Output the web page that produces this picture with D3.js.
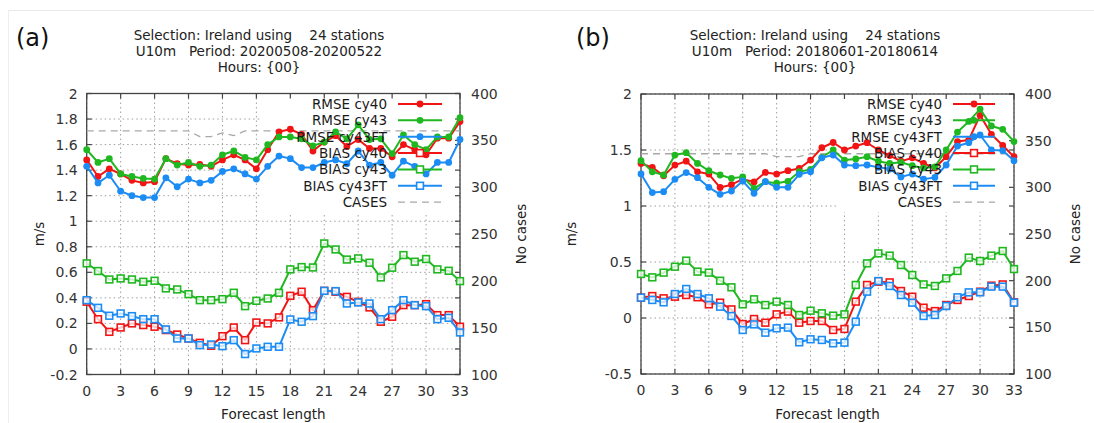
<!DOCTYPE html>
<html><head><meta charset="utf-8">
<script src="https://cdn.jsdelivr.net/npm/d3@7"></script>
<style>
body{margin:0;background:#fff}
svg{display:block}
text{font-family:"DejaVu Sans",sans-serif}
</style>
</head><body>
<svg id="chart" width="1094" height="423"></svg>
<script>
// ---------------- DATA ----------------
const forecastHours = [0,1,2,3,4,5,6,7,8,9,10,11,12,13,14,15,16,17,18,19,20,21,22,23,24,25,26,27,28,29,30,31,32,33];
const xTickLabels = [0,3,6,9,12,15,18,21,24,27,30,33];
const seriesNames = ["RMSE cy40","RMSE cy43","RMSE cy43FT","BIAS cy40","BIAS cy43","BIAS cy43FT","CASES"];

// Panel (a): 20200508-20200522
const rmseCy40A   = [1.48,1.35,1.41,1.37,1.32,1.30,1.31,1.49,1.45,1.44,1.445,1.43,1.48,1.52,1.48,1.41,1.56,1.70,1.72,1.68,1.55,1.62,1.67,1.585,1.64,1.57,1.57,1.505,1.60,1.56,1.52,1.65,1.65,1.78];
const rmseCy43A   = [1.56,1.46,1.49,1.37,1.35,1.335,1.33,1.49,1.44,1.46,1.43,1.44,1.52,1.55,1.50,1.48,1.60,1.66,1.66,1.645,1.59,1.62,1.70,1.645,1.755,1.64,1.645,1.53,1.675,1.60,1.56,1.66,1.66,1.81];
const rmseCy43FTA = [1.43,1.30,1.36,1.235,1.20,1.185,1.185,1.34,1.27,1.33,1.30,1.32,1.39,1.41,1.37,1.33,1.43,1.51,1.49,1.42,1.42,1.46,1.48,1.45,1.55,1.44,1.46,1.36,1.47,1.43,1.37,1.46,1.46,1.64];
const biasCy40A   = [0.37,0.233,0.134,0.168,0.20,0.187,0.174,0.148,0.113,0.082,0.048,0.025,0.10,0.168,0.069,0.207,0.20,0.247,0.416,0.448,0.304,0.455,0.448,0.408,0.369,0.325,0.213,0.252,0.343,0.343,0.351,0.265,0.265,0.174];
const biasCy43A   = [0.67,0.61,0.544,0.552,0.544,0.526,0.534,0.474,0.466,0.429,0.382,0.382,0.39,0.44,0.335,0.377,0.395,0.44,0.623,0.641,0.638,0.826,0.779,0.70,0.709,0.675,0.56,0.636,0.735,0.683,0.704,0.623,0.612,0.531];
const biasCy43FTA = [0.382,0.322,0.26,0.278,0.257,0.233,0.233,0.153,0.082,0.082,0.03,0.035,0.022,0.069,-0.04,0.004,0.017,0.017,0.231,0.213,0.257,0.455,0.453,0.356,0.364,0.356,0.233,0.304,0.382,0.343,0.335,0.233,0.244,0.129];
const casesA      = [360,360,360,360,360,360,360,360,360,360,354,354,358,355,360,360,360,360,360,360,360,360,360,360,360,360,360,360,360,360,360,360,360,360];

// Panel (b): 20180601-20180614
const rmseCy40B   = [1.38,1.345,1.27,1.365,1.40,1.305,1.285,1.165,1.19,1.24,1.215,1.30,1.285,1.315,1.335,1.41,1.52,1.567,1.50,1.535,1.565,1.50,1.45,1.40,1.43,1.38,1.34,1.44,1.575,1.59,1.81,1.64,1.54,1.44];
const rmseCy43B   = [1.405,1.305,1.277,1.455,1.476,1.38,1.315,1.277,1.247,1.26,1.158,1.217,1.203,1.22,1.306,1.327,1.435,1.50,1.41,1.42,1.44,1.40,1.38,1.39,1.36,1.34,1.35,1.50,1.66,1.755,1.865,1.715,1.685,1.575];
const rmseCy43FTB = [1.286,1.12,1.128,1.238,1.298,1.253,1.167,1.104,1.134,1.223,1.113,1.217,1.167,1.167,1.283,1.306,1.43,1.455,1.366,1.36,1.366,1.345,1.33,1.26,1.285,1.24,1.255,1.366,1.535,1.565,1.634,1.50,1.495,1.405];
const biasCy40B   = [0.182,0.196,0.176,0.19,0.205,0.185,0.122,0.137,0.077,-0.054,-0.009,-0.042,0.033,0.057,-0.042,-0.027,-0.027,-0.107,-0.098,0.146,0.295,0.324,0.318,0.241,0.19,0.092,0.062,0.116,0.161,0.196,0.235,0.289,0.30,0.14];
const biasCy43B   = [0.393,0.363,0.405,0.458,0.512,0.414,0.405,0.333,0.274,0.122,0.167,0.116,0.146,0.116,0.027,0.065,0.042,0.021,0.033,0.295,0.488,0.577,0.557,0.473,0.384,0.30,0.286,0.354,0.42,0.539,0.509,0.557,0.598,0.437];
const biasCy43FTB = [0.182,0.161,0.14,0.214,0.259,0.214,0.176,0.101,0.018,-0.107,-0.057,-0.131,-0.092,-0.086,-0.217,-0.19,-0.196,-0.226,-0.22,-0.033,0.235,0.33,0.286,0.205,0.137,0.018,0.027,0.107,0.185,0.229,0.229,0.28,0.28,0.137];
const casesB      = [336,336,336,336,336,336,336,336,336,336,336,336,333,333,333,336,336,336,336,336,336,336,336,336,336,336,336,336,336,336,336,336,336,336];

const yTicksA  = [-0.2,0,0.2,0.4,0.6,0.8,1,1.2,1.4,1.6,1.8,2];
const yTicksB  = [-0.5,0,0.5,1,1.5,2];
const y2Ticks  = [100,150,200,250,300,350,400];

const titleA = ["Selection: Ireland using    24 stations","U10m   Period: 20200508-20200522","Hours: {00}"];
const titleB = ["Selection: Ireland using    24 stations","U10m   Period: 20180601-20180614","Hours: {00}"];

// ---------------- STYLE ----------------
const RED = "#f21414", GREEN = "#20b820", BLUE = "#1c8cf5", GREY = "#a8a8a8";
const seriesStyle = [
  {color:RED, marker:"circle"}, {color:GREEN, marker:"circle"}, {color:BLUE, marker:"circle"},
  {color:RED, marker:"square"}, {color:GREEN, marker:"square"}, {color:BLUE, marker:"square"},
  {color:GREY, marker:"none", dash:"7,5"}
];

const svg = d3.select("#chart");
// faint frame of the original figure
svg.append("line").attr("x1",8).attr("x2",1094).attr("y1",10.5).attr("y2",10.5).attr("stroke","#e9e9e9");
svg.append("line").attr("x1",8.5).attr("x2",8.5).attr("y1",10).attr("y2",423).attr("stroke","#eeeeee");

function fmt(v){ return String(+v.toFixed(2)); }

function drawPanel(p){
  const g = svg.append("g");
  const x = d3.scaleLinear().domain([0,33]).range([p.left,p.right]);
  const y = d3.scaleLinear().domain(p.yDomain).range([p.bottom,p.top]);
  const y2 = d3.scaleLinear().domain([100,400]).range([p.bottom,p.top]);

  // tag
  g.append("text").attr("x",p.tagX).attr("y",46).attr("font-size",24)
    .attr("font-family","'Open Sans',sans-serif").attr("fill","#111").text(p.tag);
  // title
  p.title.forEach((t,i)=>{
    g.append("text").attr("x",p.titleX).attr("y",39.5+i*16.3).attr("text-anchor","middle")
      .attr("font-size",13.5).attr("fill","#222").attr("xml:space","preserve").style("white-space","pre").text(t);
  });

  // grid
  const grid = g.append("g").attr("stroke","#a0a0a0").attr("stroke-width",1).attr("stroke-dasharray","1.5,3");
  p.yTicks.forEach(t=>{
    grid.append("line").attr("x1",p.left).attr("x2",p.right).attr("y1",y(t)).attr("y2",y(t));
  });
  xTickLabels.forEach(t=>{
    grid.append("line").attr("x1",x(t)).attr("x2",x(t)).attr("y1",p.top).attr("y2",p.bottom);
  });
  // key background mask
  g.append("rect").attr("x",p.keyMask[0]).attr("y",p.top+1).attr("width",p.right-p.keyMask[0]-1)
    .attr("height",p.keyMask[1]-p.top).attr("fill","#fff");

  // border
  g.append("rect").attr("x",p.left).attr("y",p.top).attr("width",p.right-p.left).attr("height",p.bottom-p.top)
    .attr("fill","none").attr("stroke","#444").attr("stroke-width",1.3);

  // ticks (inward)
  const tk = g.append("g").attr("stroke","#444").attr("stroke-width",1.2);
  const TL = 5;
  p.yTicks.forEach(t=>{
    tk.append("line").attr("x1",p.left).attr("x2",p.left+TL).attr("y1",y(t)).attr("y2",y(t));
    tk.append("line").attr("x1",p.right).attr("x2",p.right-TL).attr("y1",y(t)).attr("y2",y(t));
  });
  y2Ticks.forEach(t=>{
    tk.append("line").attr("x1",p.right).attr("x2",p.right-TL).attr("y1",y2(t)).attr("y2",y2(t));
  });
  xTickLabels.forEach(t=>{
    tk.append("line").attr("x1",x(t)).attr("x2",x(t)).attr("y1",p.bottom).attr("y2",p.bottom-TL);
    tk.append("line").attr("x1",x(t)).attr("x2",x(t)).attr("y1",p.top).attr("y2",p.top+TL);
  });

  // tick labels
  const lab = g.append("g").attr("font-size",14).attr("fill","#333");
  p.yTicks.forEach(t=>{
    lab.append("text").attr("x",p.left-9).attr("y",y(t)+5).attr("text-anchor","end").text(fmt(t));
  });
  y2Ticks.forEach(t=>{
    lab.append("text").attr("x",p.right+11).attr("y",y2(t)+5).attr("text-anchor","start").text(t);
  });
  xTickLabels.forEach(t=>{
    lab.append("text").attr("x",x(t)).attr("y",p.bottom+21).attr("text-anchor","middle").text(t);
  });

  // axis titles
  g.append("text").attr("transform",`translate(${p.ylabX},${(p.top+p.bottom)/2}) rotate(-90)`)
    .attr("text-anchor","middle").attr("font-size",13.5).attr("fill","#222").text("m/s");
  g.append("text").attr("transform",`translate(${p.y2labX},${(p.top+p.bottom)/2}) rotate(-90)`)
    .attr("text-anchor","middle").attr("font-size",13.5).attr("fill","#222").text("No cases");
  g.append("text").attr("x",(p.left+p.right)/2).attr("y",418.5).attr("text-anchor","middle")
    .attr("font-size",13.5).attr("fill","#222").text("Forecast length");

  // series
  const order = [6,0,1,2,3,4,5];
  order.forEach(si=>{
    const st = seriesStyle[si];
    const vals = p.series[si];
    const ys = si===6 ? y2 : y;
    const pts = forecastHours.map((h,i)=>[x(h), ys(vals[i])]);
    g.append("path").attr("d",d3.line()(pts)).attr("fill","none").attr("stroke",st.color)
      .attr("stroke-width", si===6?1.3:2).attr("stroke-dasharray",st.dash||null).attr("stroke-linejoin","round");
    if(st.marker==="circle"){
      pts.forEach(q=>g.append("circle").attr("cx",q[0]).attr("cy",q[1]).attr("r",3.4).attr("fill",st.color));
    } else if(st.marker==="square"){
      pts.forEach(q=>g.append("rect").attr("x",q[0]-3.4).attr("y",q[1]-3.4).attr("width",6.8).attr("height",6.8)
        .attr("fill","#fff").attr("fill-opacity",0.75).attr("stroke",st.color).attr("stroke-width",1.6));
    }
  });

  // key
  seriesNames.forEach((name,i)=>{
    const st = seriesStyle[i];
    const cy = 104 + i*16.35;
    g.append("text").attr("x",p.keyTextX).attr("y",cy+5).attr("text-anchor","end")
      .attr("font-size",13.5).attr("fill","#1a1a1a").text(name);
    g.append("line").attr("x1",p.keyLine[0]).attr("x2",p.keyLine[1]).attr("y1",cy).attr("y2",cy)
      .attr("stroke",st.color).attr("stroke-width",i===6?1.3:2).attr("stroke-dasharray",st.dash||null);
    const mx = (p.keyLine[0]+p.keyLine[1])/2;
    if(st.marker==="circle") g.append("circle").attr("cx",mx).attr("cy",cy).attr("r",3.4).attr("fill",st.color);
    if(st.marker==="square") g.append("rect").attr("x",mx-3.4).attr("y",cy-3.4).attr("width",6.8).attr("height",6.8)
      .attr("fill","#fff").attr("stroke",st.color).attr("stroke-width",1.6);
  });
}

drawPanel({
  tag:"(a)", tagX:16, title:titleA, titleX:259,
  left:86.7, right:460, top:93.5, bottom:374.5, yDomain:[-0.2,2], yTicks:yTicksA,
  ylabX:44, y2labX:526, keyTextX:387, keyLine:[398,442], keyMask:[262,211],
  series:[rmseCy40A,rmseCy43A,rmseCy43FTA,biasCy40A,biasCy43A,biasCy43FTA,casesA]
});
drawPanel({
  tag:"(b)", tagX:576, title:titleB, titleX:815,
  left:641, right:1014, top:94, bottom:374, yDomain:[-0.5,2], yTicks:yTicksB,
  ylabX:576, y2labX:1080, keyTextX:942, keyLine:[953,995], keyMask:[838,211],
  series:[rmseCy40B,rmseCy43B,rmseCy43FTB,biasCy40B,biasCy43B,biasCy43FTB,casesB]
});
</script>
</body></html>
